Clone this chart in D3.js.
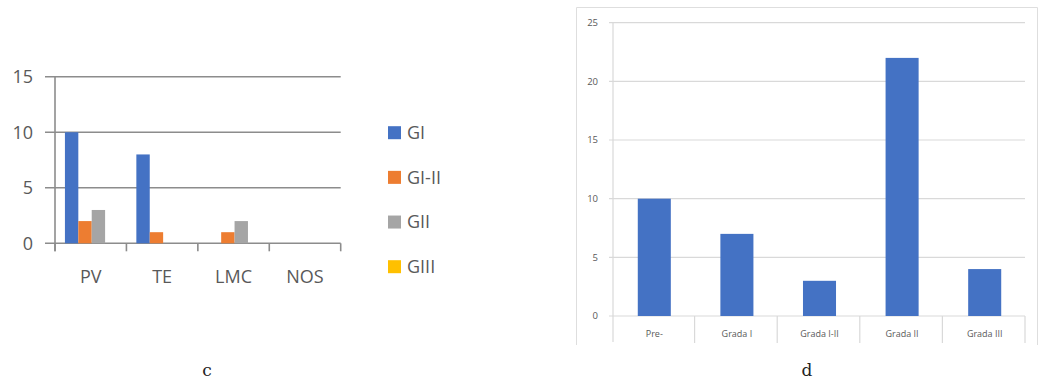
<!DOCTYPE html>
<html>
<head>
<meta charset="utf-8">
<script src="https://cdn.jsdelivr.net/npm/d3@7/dist/d3.min.js"></script>
<style>
  html, body { margin: 0; padding: 0; background: #fff; }
  svg { display: block; }
</style>
</head>
<body>
<svg id="fig" width="1042" height="380"></svg>
<script>
// Panel c: grouped counts by location and grade
const locations = ["PV", "TE", "LMC", "NOS"];
const grades = ["GI", "GI-II", "GII", "GIII"];
const gradeColors = ["#4472C4", "#ED7D31", "#A5A5A5", "#FFC000"];
const valuesGI    = [10, 8, 0, 0];
const valuesGI_II = [2, 1, 1, 0];
const valuesGII   = [3, 0, 2, 0];
const valuesGIII  = [0, 0, 0, 0];
const ticksC = [0, 5, 10, 15];

// Panel d: counts by grade
const gradeCats = ["Pre-", "Grada I", "Grada I-II", "Grada II", "Grada III"];
const gradeCounts = [10, 7, 3, 22, 4];
const ticksD = [0, 5, 10, 15, 20, 25];

const svg = d3.select("#fig");
const font = "'Open Sans', 'Noto Sans', sans-serif";

// ---------- Panel c ----------
{
  const seriesVals = [valuesGI, valuesGI_II, valuesGII, valuesGIII];
  const left = 55, right = 340.7, y0 = 243.3, yTop = 76.7;
  const y = d3.scaleLinear().domain([0, 15]).range([y0, yTop]);
  const x0 = d3.scaleBand().domain(locations).range([left, right]);
  const bw = x0.bandwidth();
  const inner = bw * 0.75;
  const x1 = d3.scaleBand().domain(grades).range([(bw - inner) / 2 + 1, (bw + inner) / 2 + 1]);

  const g = svg.append("g");

  // horizontal gridlines with left ticks
  g.selectAll("line.grid").data(ticksC).join("line")
    .attr("x1", left - 10).attr("x2", right)
    .attr("y1", d => y(d)).attr("y2", d => y(d))
    .attr("stroke", "#8c8c8c").attr("stroke-width", 1.6);

  // vertical axis
  g.append("line").attr("x1", left).attr("x2", left)
    .attr("y1", y(15)).attr("y2", y0 + 8)
    .attr("stroke", "#8c8c8c").attr("stroke-width", 1.6);

  // category boundary ticks
  const bounds = locations.map(d => x0(d)).concat([right]);
  g.selectAll("line.ctick").data(bounds).join("line")
    .attr("x1", d => d).attr("x2", d => d)
    .attr("y1", y0).attr("y2", y0 + 8)
    .attr("stroke", "#8c8c8c").attr("stroke-width", 1.6);

  // bars
  grades.forEach((gr, si) => {
    g.selectAll(null).data(locations.map((loc, i) => ({ loc, v: seriesVals[si][i] })))
      .join("rect")
      .attr("x", d => x0(d.loc) + x1(gr))
      .attr("width", x1.bandwidth())
      .attr("y", d => y(d.v))
      .attr("height", d => y0 - y(d.v))
      .attr("fill", gradeColors[si]);
  });

  // y tick labels
  g.selectAll("text.yl").data(ticksC).join("text")
    .attr("x", 33).attr("y", d => y(d)).attr("dy", "0.35em")
    .attr("text-anchor", "end")
    .attr("font-family", font).attr("font-size", 18).attr("fill", "#595959")
    .text(d => d);

  // category labels
  g.selectAll("text.xl").data(locations).join("text")
    .attr("x", d => x0(d) + bw / 2).attr("y", 277).attr("dy", "0.35em")
    .attr("text-anchor", "middle")
    .attr("font-family", font).attr("font-size", 18).attr("fill", "#595959")
    .text(d => d);

  // legend
  const ly = d3.scalePoint().domain(grades).range([132.7, 266.7]);
  const lg = g.selectAll("g.leg").data(grades).join("g")
    .attr("transform", d => `translate(388, ${ly(d)})`);
  lg.append("rect").attr("x", 0).attr("y", -6.5).attr("width", 13).attr("height", 13)
    .attr("fill", (d, i) => gradeColors[i]);
  lg.append("text").attr("x", 19).attr("dy", "0.35em")
    .attr("font-family", font).attr("font-size", 18).attr("fill", "#595959")
    .text(d => d);

  // panel letter
  svg.append("text").attr("x", 207).attr("y", 376)
    .attr("text-anchor", "middle")
    .attr("font-family", "'DejaVu Serif', 'Liberation Serif', serif").attr("font-size", 17)
    .attr("fill", "#222").text("c");
}

// ---------- Panel d ----------
{
  const left = 612, right = 1025, y0 = 316, yTop = 22.7;
  const y = d3.scaleLinear().domain([0, 25]).range([y0, yTop]);
  const x = d3.scaleBand().domain(gradeCats).range([left, right]);
  const bw = x.bandwidth();
  const barW = bw * 0.4;

  const g = svg.append("g");

  // chart frame
  g.append("path")
    .attr("d", `M576.5,345 V7.5 H1037.5 V345`)
    .attr("fill", "none").attr("stroke", "#dedede").attr("stroke-width", 1);

  // gridlines
  g.selectAll("line.grid").data(ticksD).join("line")
    .attr("x1", left - 3).attr("x2", right)
    .attr("y1", d => y(d)).attr("y2", d => y(d))
    .attr("stroke", "#d9d9d9").attr("stroke-width", 1.2);

  // vertical axis
  g.append("line").attr("x1", left + 1).attr("x2", left + 1)
    .attr("y1", y(25)).attr("y2", 342)
    .attr("stroke", "#d9d9d9").attr("stroke-width", 1.2);

  // category boundary ticks
  const bounds = gradeCats.map(d => x(d)).concat([right]);
  g.selectAll("line.ctick").data(bounds.slice(1)).join("line")
    .attr("x1", d => d).attr("x2", d => d)
    .attr("y1", y0).attr("y2", 343)
    .attr("stroke", "#d9d9d9").attr("stroke-width", 1.2);

  // bars
  g.selectAll("rect.bar").data(gradeCats.map((c, i) => ({ c, v: gradeCounts[i] })))
    .join("rect")
    .attr("x", d => x(d.c) + (bw - barW) / 2 + 1)
    .attr("width", barW)
    .attr("y", d => y(d.v))
    .attr("height", d => y0 - y(d.v))
    .attr("fill", "#4472C4");

  // y tick labels
  g.selectAll("text.yl").data(ticksD).join("text")
    .attr("x", 598).attr("y", d => y(d)).attr("dy", "0.35em")
    .attr("text-anchor", "end")
    .attr("font-family", font).attr("font-size", 9.5).attr("fill", "#595959")
    .text(d => d);

  // category labels
  g.selectAll("text.xl").data(gradeCats).join("text")
    .attr("x", d => x(d) + bw / 2 + 1).attr("y", 334).attr("dy", "0.35em")
    .attr("text-anchor", "middle")
    .attr("font-family", font).attr("font-size", 9).attr("fill", "#595959")
    .text(d => d);

  svg.append("text").attr("x", 807).attr("y", 376)
    .attr("text-anchor", "middle")
    .attr("font-family", "'DejaVu Serif', 'Liberation Serif', serif").attr("font-size", 17)
    .attr("fill", "#222").text("d");
}
</script>
</body>
</html>
